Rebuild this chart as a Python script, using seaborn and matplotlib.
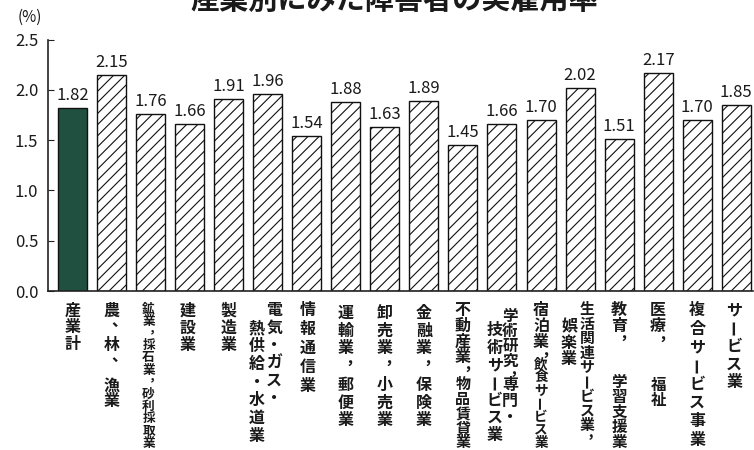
import matplotlib
matplotlib.use("Agg")
import matplotlib.pyplot as plt
import matplotlib.transforms as mtransforms
import seaborn as sns
import pandas as pd

# ---------------- data ----------------
categories = ["産業計", "農、林、漁業", "鉱業，採石業，砂利採取業", "建設業", "製造業",
              "電気・ガス・熱供給・水道業", "情報通信業", "運輸業，郵便業", "卸売業，小売業",
              "金融業，保険業", "不動産業，物品賃貸業", "学術研究，専門・技術サービス業",
              "宿泊業，飲食サービス業", "生活関連サービス業，娯楽業", "教育，学習支援業",
              "医療，福祉", "複合サービス事業", "サービス業"]
values = [1.82, 2.15, 1.76, 1.66, 1.91, 1.96, 1.54, 1.88, 1.63,
          1.89, 1.45, 1.66, 1.70, 2.02, 1.51, 2.17, 1.70, 1.85]
y_ticks = [0.0, 0.5, 1.0, 1.5, 2.0, 2.5]
y_tick_labels = ["0.0", "0.5", "1.0", "1.5", "2.0", "2.5"]
title = "産業別にみた障害者の実雇用率"
unit_label = "(%)"

# vertical label layout (presentation only):
# per category, columns right-to-left: (dx px, [(segment text, top px, pitch px), ...])
label_columns = [
    [(0, [("産業計", 302, 17)])],
    [(0, [("農、林、", 302, 17.5), ("漁業", 377, 16)])],
    [(-2, [("鉱業，採石業，砂利採取業", 302, 12.2)])],
    [(-2, [("建設業", 302, 17.5)])],
    [(0, [("製造業", 302, 17.5)])],
    [(6.5, [("電気・ガス・", 302, 17.5)]), (-11, [("熱供給・水道業", 320, 18)])],
    [(1, [("情報通信業", 302, 19)])],
    [(0, [("運輸業，", 305, 17.5), ("郵便業", 377, 17.5)])],
    [(0, [("卸売業，", 305, 17.5), ("小売業", 377, 17.5)])],
    [(0, [("金融業，", 305, 17.5), ("保険業", 377, 17.5)])],
    [(0, [("不動産業，", 302, 15.5), ("物品賃貸業", 377, 14.5)])],
    [(8, [("学術研究，", 308, 15), ("専門・", 377, 16)]),
     (-7, [("技術サービス業", 322, 17.5)])],
    [(0, [("宿泊業，", 302, 16), ("飲食サービス業", 357, 13.1)])],
    [(7, [("生活関連サービス業，", 302, 14.4)]), (-11, [("娯楽業", 318, 16.5)])],
    [(0, [("教育，", 302, 15.5), ("学習支援業", 374, 15)])],
    [(0, [("医療，", 302, 16), ("福祉", 377, 15)])],
    [(0, [("複合サービス事業", 302, 18.5)])],
    [(-2, [("サービス業", 302, 18)])],
]

# ---------------- style ----------------
sns.set_style("ticks")
plt.rcParams["font.family"] = ["Noto Sans CJK JP", "DejaVu Sans"]
plt.rcParams["hatch.linewidth"] = 0.8
plt.rcParams["hatch.color"] = "#111111"

W, H, DPI = 754, 450, 100
fig = plt.figure(figsize=(W / DPI, H / DPI), dpi=DPI)
ax = fig.add_axes([48 / W, 1 - 291 / H, (753 - 48) / W, (291 - 39.5) / H])

green = "#1f5040"
df = pd.DataFrame({"industry": categories, "rate": values})
palette = {c: (green if i == 0 else "white") for i, c in enumerate(categories)}
sns.barplot(data=df, x="industry", y="rate", hue="industry", palette=palette,
            legend=False, dodge=False, width=0.743, edgecolor="#111111",
            linewidth=1.0, saturation=1, errorbar=None, ax=ax)

bars = sorted(ax.patches, key=lambda p: p.get_x())
for p in bars[1:]:
    p.set_hatch("///")

for c in ax.containers:
    ax.bar_label(c, fmt="%.2f", padding=3, fontsize=12, color="#1a1a1a")

ax.set_xlim(-0.628, 17.43)
ax.set_ylim(0, 2.5)
ax.set_yticks(y_ticks)
ax.set_yticklabels(y_tick_labels)
ax.set_xlabel("")
ax.set_ylabel("")
ax.tick_params(axis="x", bottom=False, labelbottom=False)
ax.tick_params(axis="y", direction="in", length=4, width=0.8, pad=7,
               labelsize=12, labelcolor="#1a1a1a", color="#222222")
for s in ["top", "right"]:
    ax.spines[s].set_visible(False)
for s in ["left", "bottom"]:
    ax.spines[s].set_linewidth(1.2)
    ax.spines[s].set_color("#222222")

# vertical category labels
base = mtransforms.blended_transform_factory(ax.transData, fig.transFigure)
for i, cols in enumerate(label_columns):
    for dx, segments in cols:
        for text, top, pitch in segments:
            em = min(16.0, pitch + 0.5)
            fs = em * 72 / DPI
            for k, ch in enumerate(text):
                if ch == " ":
                    continue
                ink_top = top + k * pitch
                ox = dx
                if ch == "ー":
                    y = ink_top + 0.45 * em
                    kw = dict(rotation=90, va="center", rotation_mode="anchor")
                else:
                    y = ink_top + 0.83 * em
                    kw = dict(va="baseline")
                    if ch in "、，":
                        ox += 0.5 * em
                        y -= 0.4 * em
                tr = base + mtransforms.ScaledTranslation(ox / DPI, 0, fig.dpi_scale_trans)
                ax.text(i, 1 - y / H, ch, transform=tr, ha="center", fontsize=fs,
                        fontweight="bold", color="#1a1a1a", **kw)

fig.text(394 / W, 1.0, title, ha="center", va="center", fontsize=21,
         fontweight="bold", color="#1a1a1a")
fig.text(30 / W, 1 - 17 / H, unit_label, ha="center", va="center", fontsize=11,
         color="#1a1a1a")

fig.savefig("out.png", dpi=DPI)
